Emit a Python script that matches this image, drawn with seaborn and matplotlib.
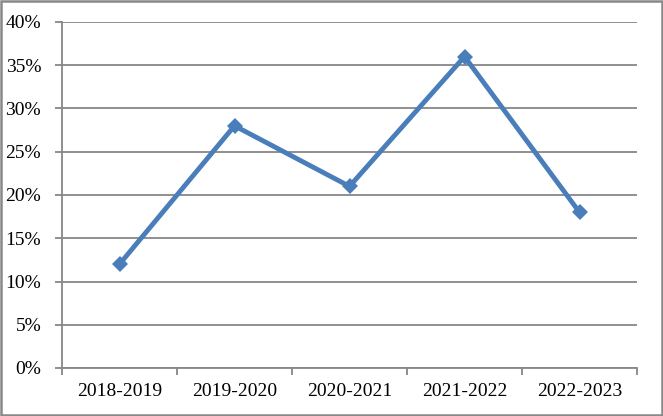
import matplotlib
matplotlib.use("Agg")
import matplotlib.pyplot as plt
import matplotlib.patches as mpatches
import seaborn as sns
import pandas as pd

seasons = ['2018-2019', '2019-2020', '2020-2021', '2021-2022', '2022-2023']
share = [12, 28, 21, 36, 18]
y_ticks = [0, 5, 10, 15, 20, 25, 30, 35, 40]

df = pd.DataFrame({'season': seasons, 'share': share})

sns.set_style('white')
plt.rcParams['font.family'] = ['Liberation Serif', 'DejaVu Serif']

grid_col = '#878787'
fs = 14

fig = plt.figure(figsize=(6.63, 4.16), dpi=100)
ax = fig.add_axes([62 / 663, 48 / 416, 575 / 663, 346 / 416])

sns.lineplot(data=df, x='season', y='share', ax=ax, color='#4a7ebb',
             linewidth=3.5, marker='D', markersize=8, markeredgewidth=0,
             sort=False, zorder=3)

ax.set_xlim(-0.5, len(seasons) - 0.5)
ax.set_ylim(0, 40)
ax.set_yticks(y_ticks)
ax.set_yticklabels([f'{t}%' for t in y_ticks])
ax.set_xticks(range(len(seasons)))
ax.set_xticklabels(seasons)
ax.set_xticks([i - 0.5 for i in range(len(seasons) + 1)], minor=True)
ax.tick_params(axis='x', which='major', bottom=True, length=0, pad=11, labelsize=fs,
               labelcolor='black')
ax.tick_params(axis='x', which='minor', bottom=True, length=5, width=1.3, color=grid_col,
               direction='out')
ax.tick_params(axis='y', which='major', left=True, length=5, width=1.3, color=grid_col,
               direction='out', pad=10, labelsize=fs, labelcolor='black')
ax.yaxis.grid(True, color=grid_col, linewidth=1.3)
ax.set_axisbelow(True)
ax.set_xlabel('')
ax.set_ylabel('')

for side in ['top', 'right']:
    ax.spines[side].set_visible(False)
for side in ['left', 'bottom']:
    ax.spines[side].set_color(grid_col)
    ax.spines[side].set_linewidth(1.3)

fig.patches.append(mpatches.Rectangle((0.002, 0.003), 0.996, 0.994, transform=fig.transFigure,
                                      fill=False, edgecolor='#888888', linewidth=1.8))

fig.savefig('out.png', dpi=100)
